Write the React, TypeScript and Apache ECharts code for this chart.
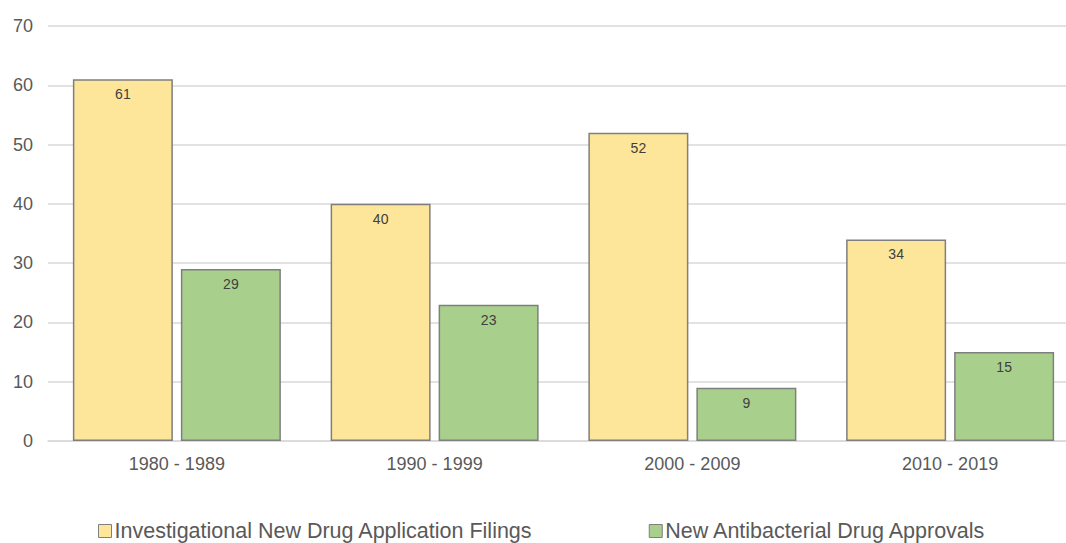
import React, { useEffect, useRef } from "react";
import * as echarts from "echarts";

const categories = ["1980 - 1989", "1990 - 1999", "2000 - 2009", "2010 - 2019"];
const indFilings = [61, 40, 52, 34];
const approvals = [29, 23, 9, 15];
const seriesNames = ["Investigational New Drug Application Filings", "New Antibacterial Drug Approvals"];

const FONT = "'Liberation Sans', Arial, sans-serif";

export default function App() {
  const ref = useRef<HTMLDivElement>(null);
  useEffect(() => {
    if (!ref.current) return;
    const chart = echarts.init(ref.current, null, { renderer: "svg" });
    const label = {
      show: true,
      position: "insideTop",
      distance: 8,
      color: "#404040",
      fontSize: 14,
      fontFamily: FONT,
    };
    chart.setOption({
      animation: false,
      backgroundColor: "#ffffff",
      textStyle: { fontFamily: FONT },
      grid: { left: 48, top: 26, right: 1, height: 415 },
      legend: {
        left: 93,
        top: 515,
        itemWidth: 13,
        itemHeight: 13,
        itemGap: 116,
        icon: "rect",
        textStyle: { fontSize: 21.5, color: "#595959", fontFamily: FONT, padding: [0, 0, 0, -2] },
        itemStyle: { borderColor: "#7f7f7f", borderWidth: 1 },
        data: seriesNames,
      },
      xAxis: {
        type: "category",
        data: categories,
        axisLine: { lineStyle: { color: "#d9d9d9", width: 1.5 } },
        axisTick: { show: false },
        axisLabel: { color: "#595959", fontSize: 18, margin: 14, fontFamily: FONT },
      },
      yAxis: {
        type: "value",
        min: 0,
        max: 70,
        interval: 10,
        axisLine: { show: false },
        axisTick: { show: false },
        axisLabel: { color: "#595959", fontSize: 18, margin: 15, fontFamily: FONT },
        splitLine: { lineStyle: { color: "#d9d9d9", width: 1.5 } },
      },
      series: [
        {
          name: seriesNames[0],
          type: "bar",
          data: indFilings,
          barWidth: 100,
          barGap: "8%",
          itemStyle: { color: "#fde59a", borderColor: "#7f7f7f", borderWidth: 1.5 },
          label,
        },
        {
          name: seriesNames[1],
          type: "bar",
          data: approvals,
          barWidth: 100,
          barGap: "8%",
          itemStyle: { color: "#a8d08c", borderColor: "#7f7f7f", borderWidth: 1.5 },
          label,
        },
      ],
    });
    return () => chart.dispose();
  }, []);
  return (
    <div style={{ position: "absolute", left: 0, top: 0, width: 1066, height: 543, overflow: "hidden" }}>
      <div ref={ref} style={{ width: 1080, height: 543 }} />
    </div>
  );
}
